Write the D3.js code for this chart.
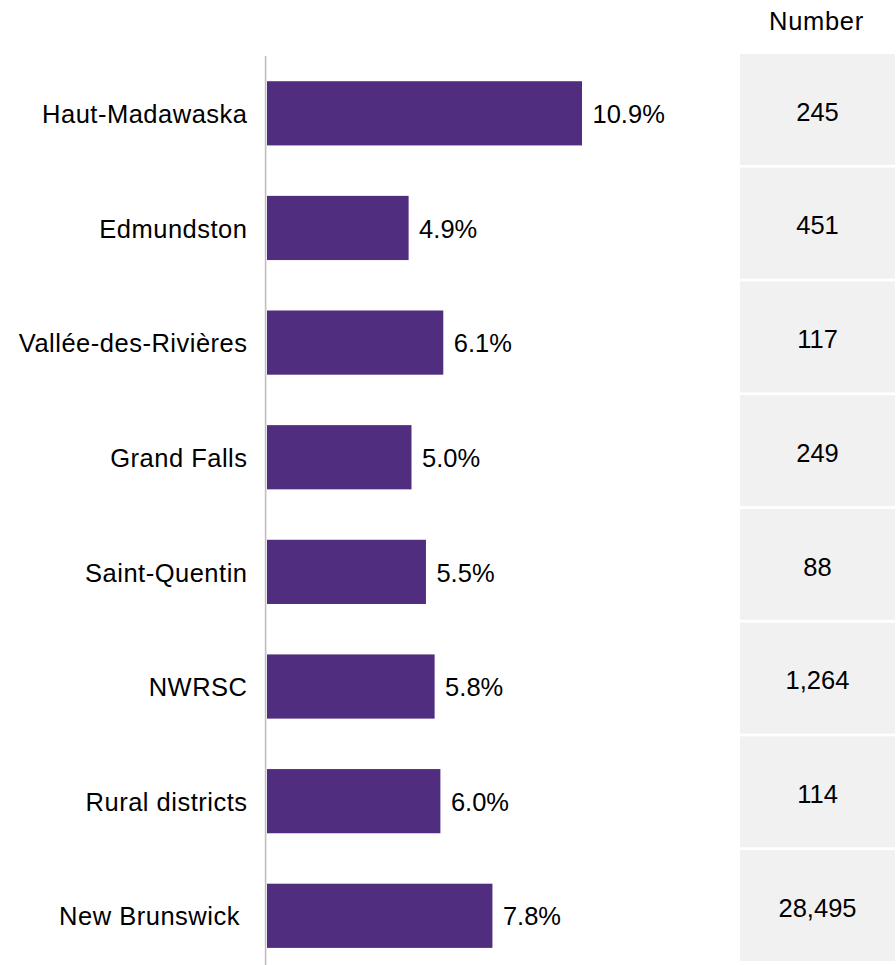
<!DOCTYPE html>
<html>
<head>
<meta charset="utf-8">
<script src="https://cdn.jsdelivr.net/npm/d3@7"></script>
<style>
  html, body { margin: 0; padding: 0; background: #fff; }
  svg { display: block; font-family: "Liberation Sans", Arial, sans-serif; }
  text { white-space: pre; }
</style>
</head>
<body>
<svg id="chart" width="896" height="965"></svg>
<script>
// Share of population by area, with counts in the side table
const categories = ["Haut-Madawaska", "Edmundston", "Vallée-des-Rivières", "Grand Falls",
                    "Saint-Quentin", "NWRSC", "Rural districts", "New Brunswick "];
const percentValues = [10.9, 4.9, 6.1, 5.0, 5.5, 5.8, 6.0, 7.8];
const numberValues = [245, 451, 117, 249, 88, 1264, 114, 28495];
const tableHeader = "Number";

const svg = d3.select("#chart");
const fontSize = 25.5;

// Horizontal bar scales
const y = d3.scaleBand()
  .domain(categories)
  .range([56, 56 + 8 * 114.64])
  .paddingInner(0.44)
  .paddingOuter(0.22);

const x = d3.scaleLinear()
  .domain([0, 12])
  .range([267, 267 + 12 * 28.9]);

// Vertical category axis line
svg.append("line")
  .attr("x1", 265.6).attr("x2", 265.6)
  .attr("y1", 56).attr("y2", 965)
  .attr("stroke", "#bfbfbf")
  .attr("stroke-width", 1.6);

const rows = categories.map((c, i) => ({ cat: c, pct: percentValues[i], num: numberValues[i] }));

// Bars
svg.append("g").selectAll("rect")
  .data(rows)
  .join("rect")
  .attr("x", x(0))
  .attr("y", d => y(d.cat))
  .attr("width", d => x(d.pct) - x(0))
  .attr("height", y.bandwidth())
  .attr("fill", "#502d7e");

// Category labels
svg.append("g").selectAll("text")
  .data(rows)
  .join("text")
  .attr("x", 247.5)
  .attr("y", d => y(d.cat) + y.bandwidth() / 2)
  .attr("dy", "0.38em")
  .attr("text-anchor", "end")
  .attr("font-size", fontSize)
  .attr("letter-spacing", 0.5)
  .attr("fill", "#000")
  .text(d => d.cat);

// Value labels
svg.append("g").selectAll("text")
  .data(rows)
  .join("text")
  .attr("x", d => x(d.pct) + 10.5)
  .attr("y", d => y(d.cat) + y.bandwidth() / 2)
  .attr("dy", "0.38em")
  .attr("font-size", fontSize)
  .attr("fill", "#000")
  .text(d => d3.format(".1f")(d.pct) + "%");

// Side table of counts
const t = d3.scaleBand()
  .domain(categories)
  .range([54, 961])
  .paddingInner(0.025);

const cellX0 = 740, cellX1 = 895;
const fmt = d3.format(",");

svg.append("text")
  .attr("x", (cellX0 + cellX1) / 2 - 1)
  .attr("y", 30)
  .attr("text-anchor", "middle")
  .attr("font-size", fontSize)
  .attr("letter-spacing", 0.7)
  .attr("fill", "#000")
  .text(tableHeader);

const cells = svg.append("g").selectAll("g")
  .data(rows)
  .join("g");

cells.append("rect")
  .attr("x", cellX0)
  .attr("y", d => t(d.cat))
  .attr("width", cellX1 - cellX0)
  .attr("height", t.bandwidth())
  .attr("fill", "#f1f1f1");

cells.append("text")
  .attr("x", (cellX0 + cellX1) / 2)
  .attr("y", d => t(d.cat) + t.bandwidth() / 2)
  .attr("dy", "0.44em")
  .attr("text-anchor", "middle")
  .attr("font-size", fontSize)
  .attr("fill", "#000")
  .text(d => fmt(d.num));
</script>
</body>
</html>
